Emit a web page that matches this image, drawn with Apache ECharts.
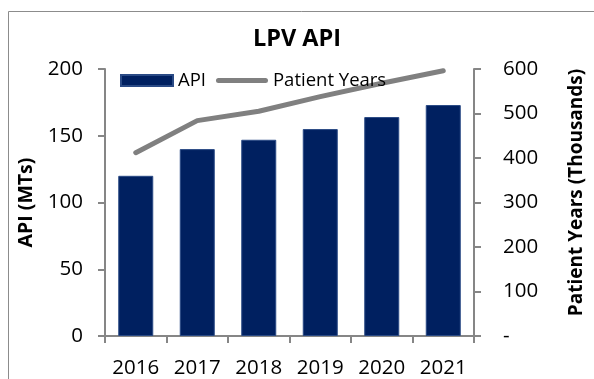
<!DOCTYPE html>
<html>
<head>
<meta charset="utf-8">
<script src="https://cdn.jsdelivr.net/npm/echarts@6/dist/echarts.min.js"></script>
<style>
  html, body { margin: 0; padding: 0; background: #ffffff; }
  #chart { width: 594px; height: 379px; }
</style>
</head>
<body>
<div id="chart"></div>
<script>
// LPV API volumes (bars, left axis) and patient years (line, right axis)
const years = ['2016', '2017', '2018', '2019', '2020', '2021'];
const apiMTs = [120, 140, 147, 155, 164, 173];
const patientYears = [412, 484, 505, 538, 568, 596];

const leftTicks = { min: 0, max: 200, interval: 50 };
const rightTicks = { min: 0, max: 600, interval: 100 };

const FONT = 'Open Sans';
const AXIS_GREY = '#868686';
const LINE_GREY = '#808080';

// thick, round-ended stroke used as the legend marker for the line series
const LINE_ICON = 'path://M2.5,0 H49.5 A2.5,2.5 0 0 1 49.5,5 H2.5 A2.5,2.5 0 0 1 2.5,0 Z';

const chart = echarts.init(document.getElementById('chart'), null, { renderer: 'canvas' });

chart.setOption({
  animation: false,
  backgroundColor: '#ffffff',
  textStyle: { fontFamily: FONT, color: '#000000' },
  graphic: [
    {
      type: 'rect',
      shape: { x: 8.5, y: 11.5, width: 620, height: 420 },
      style: { fill: 'none', stroke: '#8c8c8c', lineWidth: 1 },
      silent: true
    }
  ],
  title: {
    text: 'LPV API',
    left: 'center',
    top: 22,
    textStyle: { fontFamily: FONT, fontWeight: 'bold', fontSize: 23.5, color: '#000000' }
  },
  legend: {
    left: 115,
    top: 66,
    itemWidth: 52,
    itemHeight: 11,
    itemGap: 10,
    symbolKeepAspect: true,
    textStyle: { fontFamily: FONT, fontSize: 18.5, color: '#000000' },
    data: [
      { name: 'API', icon: 'rect' },
      { name: 'Patient Years', icon: LINE_ICON, itemStyle: { color: LINE_GREY } }
    ]
  },
  grid: { left: 105, right: 105, top: 69, bottom: 41, containLabel: false },
  xAxis: {
    type: 'category',
    data: years,
    boundaryGap: true,
    axisLine: { show: true, lineStyle: { color: AXIS_GREY, width: 2 } },
    axisTick: { show: true, length: 7, alignWithLabel: false, lineStyle: { color: AXIS_GREY, width: 2 } },
    axisLabel: { fontFamily: FONT, fontSize: 20.5, color: '#000000', margin: 22 },
    splitLine: { show: false }
  },
  yAxis: [
    {
      type: 'value',
      position: 'left',
      min: leftTicks.min,
      max: leftTicks.max,
      interval: leftTicks.interval,
      name: 'API (MTs)',
      nameLocation: 'middle',
      nameGap: 64,
      nameTextStyle: { fontFamily: FONT, fontWeight: 'bold', fontSize: 19.5, color: '#000000' },
      axisLine: { show: true, lineStyle: { color: AXIS_GREY, width: 2 } },
      axisTick: { show: true, length: 7, lineStyle: { color: AXIS_GREY, width: 2 } },
      axisLabel: { fontFamily: FONT, fontSize: 20.5, color: '#000000', margin: 22 },
      splitLine: { show: false }
    },
    {
      type: 'value',
      position: 'right',
      min: rightTicks.min,
      max: rightTicks.max,
      interval: rightTicks.interval,
      name: 'Patient Years (Thousands)',
      nameLocation: 'middle',
      nameGap: 93,
      nameTextStyle: { fontFamily: FONT, fontWeight: 'bold', fontSize: 19, color: '#000000', padding: [0, 0, 0, 20] },
      axisLine: { show: true, lineStyle: { color: AXIS_GREY, width: 2 } },
      axisTick: { show: true, length: 7, lineStyle: { color: AXIS_GREY, width: 2 } },
      axisLabel: {
        fontFamily: FONT, fontSize: 20.5, color: '#000000', margin: 29,
        formatter: v => (v === 0 ? '-' : String(v))
      },
      splitLine: { show: false }
    }
  ],
  series: [
    {
      name: 'API',
      type: 'bar',
      yAxisIndex: 0,
      data: apiMTs,
      barWidth: 35,
      itemStyle: { color: '#002060', borderColor: '#2a4a85', borderWidth: 1 },
      z: 2
    },
    {
      name: 'Patient Years',
      type: 'line',
      yAxisIndex: 1,
      data: patientYears,
      symbol: 'none',
      lineStyle: { color: LINE_GREY, width: 5, cap: 'round', join: 'round' },
      itemStyle: { color: LINE_GREY },
      z: 3
    }
  ]
});
</script>
</body>
</html>
